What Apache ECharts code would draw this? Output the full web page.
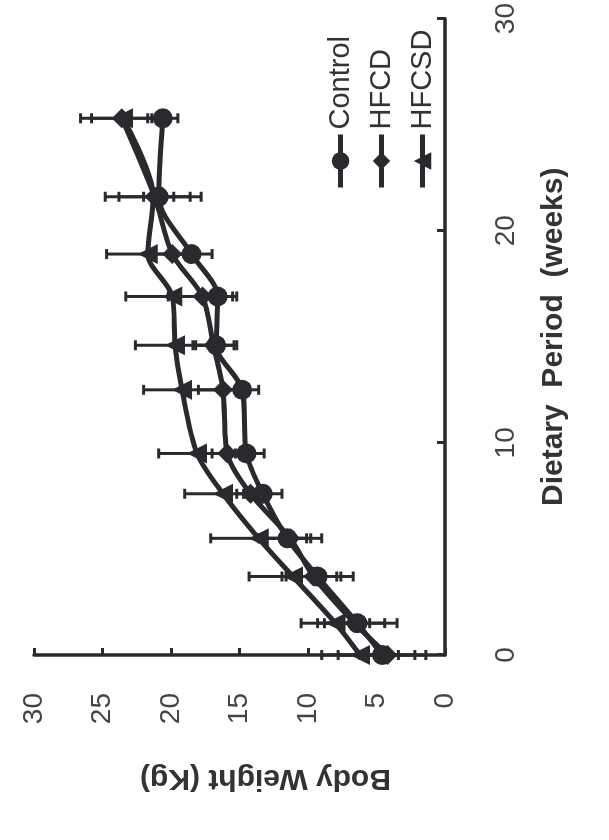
<!DOCTYPE html>
<html>
<head>
<meta charset="utf-8">
<script src="https://cdn.jsdelivr.net/npm/echarts@6/dist/echarts.min.js"></script>
<style>
  html, body { margin: 0; padding: 0; background: #fff; overflow: hidden; }
  /* the reference is the figure turned a quarter turn to the left */
  #chart {
    position: absolute;
    left: 0;
    top: 0;
    width: 840px;
    height: 609px;
    transform-origin: 0 0;
    transform: translateY(840px) rotate(-90deg);
  }
</style>
</head>
<body>
<div id="chart"></div>
<script>
const weeks = [0, 1.5, 3.7, 5.5, 7.6, 9.5, 12.5, 14.6, 16.9, 18.9, 21.6, 25.3]

const control = [4.6, 6.4, 9.3, 11.5, 13.3, 14.5, 14.8, 16.7, 16.6, 18.5, 20.9, 20.6]
const hfcd = [4.2, 6.6, 9.6, 11.3, 14.2, 15.9, 16.2, 16.9, 17.7, 19.9, 21.2, 23.6]
const hfcsd = [6.2, 8.0, 11.1, 13.6, 16.2, 18.1, 19.2, 19.7, 19.9, 21.7, 21.3, 23.5]

// +/- error (kg)
const controlErr = [3.2, 2.9, 2.6, 1.7, 1.4, 1.3, 1.2, 1.5, 1.1, 1.5, 1.1, 1.1]
const hfcdErr = [2.0, 2.2, 2.0, 2.3, 1.0, 1.1, 1.8, 1.5, 2.5, 1.8, 2.6, 2.2]
const hfcsdErr = [2.8, 2.5, 3.2, 3.5, 2.8, 2.8, 2.8, 2.9, 3.4, 3.0, 3.5, 3.1]

const ink = '#2a2a2e'
const fontFamily = '"Liberation Sans", Arial, sans-serif'

const chart = echarts.init(document.getElementById('chart'), null, { renderer: 'canvas' })

function pairs(vals) {
  return weeks.map((w, i) => [w, vals[i]])
}

function errData(vals, errs) {
  return weeks.map((w, i) => [w, vals[i] - errs[i], vals[i] + errs[i]])
}

function errorBars(name, vals, errs) {
  return {
    type: 'custom',
    name: name + '-err',
    z: 1,
    silent: true,
    data: errData(vals, errs),
    renderItem(params, api) {
      const lo = api.coord([api.value(0), api.value(1)])
      const hi = api.coord([api.value(0), api.value(2)])
      const cap = 5
      const style = { stroke: ink, lineWidth: 3 }
      return {
        type: 'group',
        children: [
          { type: 'line', shape: { x1: lo[0], y1: lo[1], x2: hi[0], y2: hi[1] }, style },
          { type: 'line', shape: { x1: lo[0] - cap, y1: lo[1], x2: lo[0] + cap, y2: lo[1] }, style },
          { type: 'line', shape: { x1: hi[0] - cap, y1: hi[1], x2: hi[0] + cap, y2: hi[1] }, style }
        ]
      }
    }
  }
}

function lineSeries(name, vals, symbol, size) {
  return {
    type: 'line',
    name: name,
    z: 3,
    data: pairs(vals),
    smooth: 0.3,
    symbol: symbol,
    symbolSize: size,
    showAllSymbol: true,
    lineStyle: { color: ink, width: 5 },
    itemStyle: { color: ink, borderWidth: 0 }
  }
}

const option = {
  animation: false,
  backgroundColor: '#fff',
  textStyle: { fontFamily },
  grid: {
    left: 185,
    right: 11,
    top: 34,
    bottom: 164
  },
  legend: {
    orient: 'vertical',
    left: 645,
    top: 320,
    itemWidth: 53,
    itemHeight: 22,
    itemGap: 10,
    data: ['Control', 'HFCD', 'HFCSD'],
    lineStyle: { width: 5 },
    textStyle: { fontSize: 29, color: '#333', lineHeight: 31, fontFamily }
  },
  xAxis: {
    type: 'value',
    min: 0,
    max: 30,
    interval: 10,
    name: 'Dietary  Period  (weeks)',
    nameLocation: 'middle',
    nameGap: 94,
    nameTextStyle: { fontSize: 30, fontWeight: 'bold', color: '#333', fontFamily },
    axisLine: { lineStyle: { color: ink, width: 3.5 } },
    axisTick: { inside: true, length: 8, lineStyle: { color: ink, width: 3 } },
    axisLabel: { fontSize: 28, color: '#444', margin: 47, fontFamily },
    splitLine: { show: false }
  },
  yAxis: {
    type: 'value',
    min: 0,
    max: 30,
    interval: 5,
    name: 'Body Weight (Kg)',
    nameLocation: 'middle',
    nameRotate: 90,
    nameGap: 108,
    nameTextStyle: { fontSize: 30, fontWeight: 'bold', color: '#333', fontFamily, padding: [0, 52, 0, 0] },
    axisLine: { show: true, lineStyle: { color: ink, width: 3.5 } },
    axisTick: { show: true, inside: true, length: 7, lineStyle: { color: ink, width: 3 } },
    axisLabel: { fontSize: 28, color: '#444', margin: 38, fontFamily },
    splitLine: { show: false }
  },
  series: [
    errorBars('Control', control, controlErr),
    errorBars('HFCD', hfcd, hfcdErr),
    errorBars('HFCSD', hfcsd, hfcsdErr),
    lineSeries('Control', control, 'circle', 20),
    lineSeries('HFCD', hfcd, 'diamond', 20),
    lineSeries('HFCSD', hfcsd, 'triangle', 20)
  ]
}

chart.setOption(option)
</script>
</body>
</html>
